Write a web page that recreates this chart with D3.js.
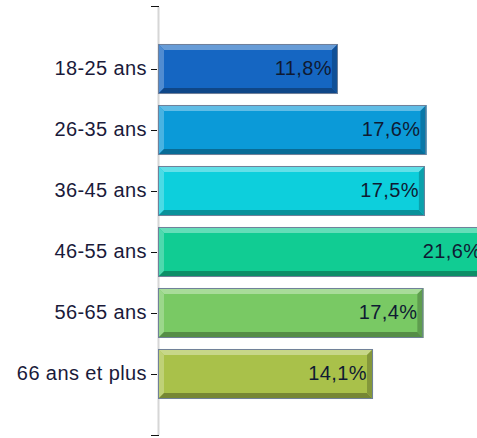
<!DOCTYPE html>
<html>
<head>
<meta charset="utf-8">
<script src="https://cdn.jsdelivr.net/npm/d3@7"></script>
<style>
  html, body { margin: 0; padding: 0; background: #ffffff; }
  svg { display: block; }
  text { font-family: "Liberation Sans", Arial, sans-serif; }
</style>
</head>
<body>
<svg id="chart" width="477" height="438"></svg>
<script>
// Age groups and their share of respondents (%)
const categories = ["18-25 ans", "26-35 ans", "36-45 ans", "46-55 ans", "56-65 ans", "66 ans et plus"];
const values = [11.8, 17.6, 17.5, 21.6, 17.4, 14.1];
const colors = ["#1566c2", "#0b9ad8", "#0dcfdc", "#11cc93", "#79c964", "#a9c14a"];

const chartW = 477, chartH = 438;
const axisX = 158, axisTop = 7, axisBottom = 435;

const svg = d3.select("#chart");

const x = d3.scaleLinear().domain([0, 20]).range([axisX, axisX + 305]);
const y = d3.scalePoint().domain(categories).range([axisTop + 1, axisBottom]).padding(1);
const barH = y.step() * 0.82;
const bevel = 6;

const fmt = v => d3.format(".1f")(v).replace(".", ",") + "%";

// vertical axis line
svg.append("line")
  .attr("x1", axisX + 0.5).attr("x2", axisX + 0.5)
  .attr("y1", axisTop).attr("y2", axisBottom)
  .attr("stroke", "#d6d6d6").attr("stroke-width", 2);

// end ticks
[axisTop - 0.5, axisBottom + 0.5].forEach(t => {
  svg.append("line")
    .attr("x1", axisX - 7).attr("x2", axisX + 1)
    .attr("y1", t).attr("y2", t)
    .attr("stroke", "#111").attr("stroke-width", 1);
});

const bars = svg.append("g").selectAll("g")
  .data(categories.map((c, i) => ({ c, v: values[i], col: colors[i] })))
  .join("g");

bars.each(function (d) {
  const g = d3.select(this);
  const x0 = x(0), x1 = x(d.v);
  const y0 = y(d.c) - barH / 2, y1 = y(d.c) + barH / 2;
  const light = d3.interpolateRgb(d.col, "#ffffff");
  const dark = d3.interpolateRgb(d.col, "#000000");

  // face
  g.append("rect")
    .attr("x", x0).attr("y", y0)
    .attr("width", x1 - x0).attr("height", y1 - y0)
    .attr("fill", d.col);

  // bevel edges
  const poly = (pts, fill) => g.append("polygon")
    .attr("points", pts.map(p => p.join(",")).join(" "))
    .attr("fill", fill);
  poly([[x0, y0], [x1, y0], [x1 - bevel, y0 + bevel], [x0 + bevel, y0 + bevel]], light(0.35));
  poly([[x0, y0], [x0 + bevel, y0 + bevel], [x0 + bevel, y1 - bevel], [x0, y1]], light(0.25));
  poly([[x0, y1], [x0 + bevel, y1 - bevel], [x1 - bevel, y1 - bevel], [x1, y1]], dark(0.3));
  poly([[x1, y0], [x1, y1], [x1 - bevel, y1 - bevel], [x1 - bevel, y0 + bevel]], dark(0.22));

  // outline
  g.append("rect")
    .attr("x", x0 + 0.5).attr("y", y0 + 0.5)
    .attr("width", x1 - x0 - 1).attr("height", y1 - y0 - 1)
    .attr("fill", "none").attr("stroke", "#70809a").attr("stroke-width", 1);

  // value label
  g.append("text")
    .attr("x", x1 - bevel).attr("y", y(d.c))
    .attr("dy", "0.3em")
    .attr("text-anchor", "end")
    .attr("font-size", 20)
    .attr("letter-spacing", 0.4)
    .attr("fill", "#0f1a33")
    .text(fmt(d.v));
});

// category ticks and labels
const cat = svg.append("g").selectAll("g").data(categories).join("g");
cat.append("line")
  .attr("x1", axisX - 7).attr("x2", axisX - 1)
  .attr("y1", d => Math.round(y(d)) + 0.5).attr("y2", d => Math.round(y(d)) + 0.5)
  .attr("stroke", "#111").attr("stroke-width", 1);
cat.append("text")
  .attr("x", axisX - 11).attr("y", d => y(d))
  .attr("dy", "0.3em")
  .attr("text-anchor", "end")
  .attr("font-size", 20)
  .attr("letter-spacing", 0.4)
  .attr("fill", "#1a1a3a")
  .text(d => d);
</script>
</body>
</html>
